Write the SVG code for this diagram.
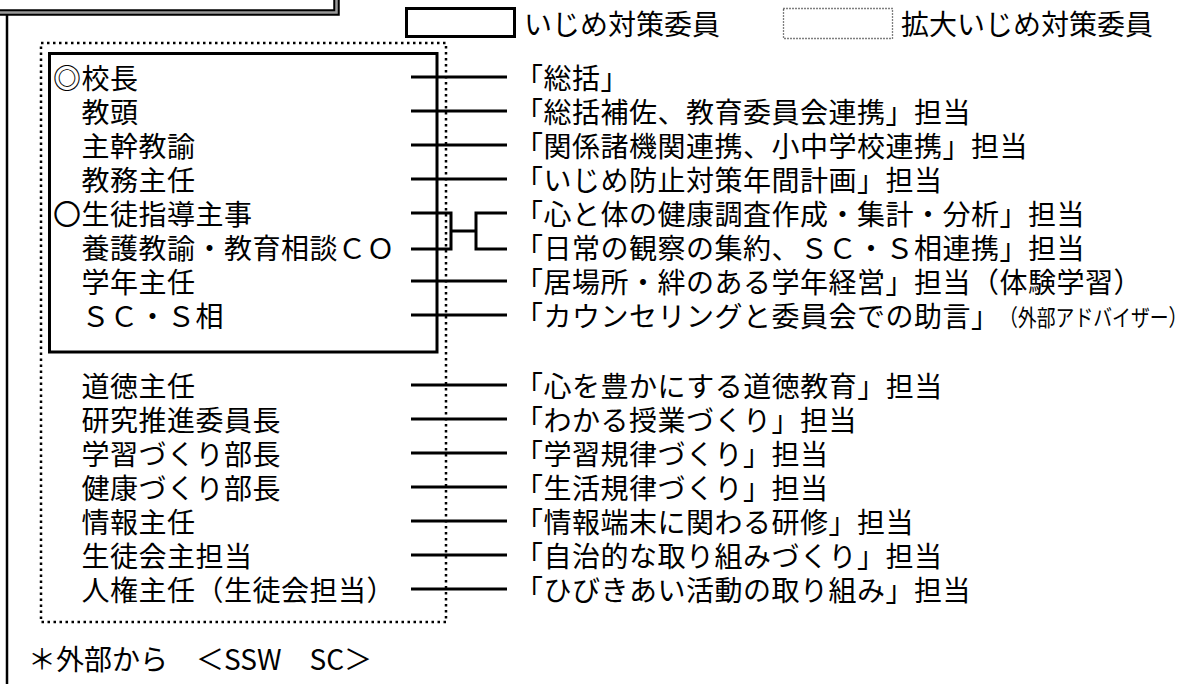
<svg xmlns="http://www.w3.org/2000/svg" width="1189" height="684" viewBox="0 0 1189 684">
<style>
text{font-family:"Noto Sans CJK JP","Noto Sans CJK SC",sans-serif;font-size:28px;fill:#000}
.r{letter-spacing:0.5px}
.sm{font-size:23px}
.ln{stroke:#000;stroke-width:3;fill:none}
.box{stroke:#000;stroke-width:3;fill:none}
.dot{stroke:#000;stroke-width:2.5;fill:none;stroke-dasharray:2.5 3.5}
</style>
<rect width="1189" height="684" fill="#fff"/>
<g id="title-frame">
<rect x="-10" y="-10" width="346.5" height="22.5" fill="#fff" stroke="#000" stroke-width="6.5"/>
<rect x="-10" y="-10" width="346.5" height="22.5" fill="none" stroke="#999" stroke-width="2.5"/>
<line x1="7" y1="15" x2="7" y2="684" stroke="#000" stroke-width="2.5"/>
</g>
<g id="legend">
<rect x="406.5" y="8.5" width="108" height="28" class="box"/>
<text x="524" y="35">いじめ対策委員</text>
<rect x="783.5" y="8.5" width="109" height="30" fill="none" stroke="#000" stroke-width="1.3" stroke-dasharray="1 2"/>
<text x="901" y="35">拡大いじめ対策委員</text>
</g>
<g id="expanded-committee">
<rect x="41" y="43" width="405" height="579" class="dot"/>
</g>
<g id="core-committee">
<rect x="49.5" y="53.5" width="387.5" height="298.5" class="box"/>
</g>
<g id="connectors">
<path class="ln" d="M411,77H507M411,111H507M411,145H507M411,179H507M411,281H507M411,315H507"/>
<path class="ln" d="M411,213H451V249H411M451,231H476M507,213H476V249H507"/>
<path class="ln" d="M411,385H507M411,419H507M411,453H507M411,487H507M411,521H507M411,555H507M411,589H507"/>
</g>
<g id="row-kocho" class="r"><text x="53" y="89">◎校長</text><text x="515" y="89">「総括」</text></g>
<g id="row-kyoto" class="r"><text x="53" y="123">　教頭</text><text x="515" y="123">「総括補佐、教育委員会連携」担当</text></g>
<g id="row-shukan" class="r"><text x="53" y="157">　主幹教諭</text><text x="515" y="157">「関係諸機関連携、小中学校連携」担当</text></g>
<g id="row-kyomu" class="r"><text x="53" y="191">　教務主任</text><text x="515" y="191">「いじめ防止対策年間計画」担当</text></g>
<g id="row-seito" class="r"><text x="53" y="225">〇生徒指導主事</text><text x="515" y="225">「心と体の健康調査作成・集計・分析」担当</text></g>
<g id="row-yogo" class="r"><text x="53" y="259">　養護教諭・教育相談ＣＯ</text><text x="515" y="259">「日常の観察の集約、ＳＣ・Ｓ相連携」担当</text></g>
<g id="row-gakunen" class="r"><text x="53" y="293">　学年主任</text><text x="515" y="293">「居場所・絆のある学年経営」担当（体験学習）</text></g>
<g id="row-sc" class="r"><text x="53" y="327">　ＳＣ・Ｓ相</text><text x="515" y="327">「カウンセリングと委員会での助言」</text><text class="sm" transform="translate(999,326) scale(0.82,1)" style="letter-spacing:0">（外部アドバイザー）</text></g>
<g id="row-dotoku" class="r"><text x="53" y="397">　道徳主任</text><text x="515" y="397">「心を豊かにする道徳教育」担当</text></g>
<g id="row-kenkyu" class="r"><text x="53" y="431">　研究推進委員長</text><text x="515" y="431">「わかる授業づくり」担当</text></g>
<g id="row-gakushu" class="r"><text x="53" y="465">　学習づくり部長</text><text x="515" y="465">「学習規律づくり」担当</text></g>
<g id="row-kenko" class="r"><text x="53" y="499">　健康づくり部長</text><text x="515" y="499">「生活規律づくり」担当</text></g>
<g id="row-joho" class="r"><text x="53" y="533">　情報主任</text><text x="515" y="533">「情報端末に関わる研修」担当</text></g>
<g id="row-seitokai" class="r"><text x="53" y="567">　生徒会主担当</text><text x="515" y="567">「自治的な取り組みづくり」担当</text></g>
<g id="row-jinken" class="r"><text x="53" y="601">　人権主任（生徒会担当）</text><text x="515" y="601">「ひびきあい活動の取り組み」担当</text></g>
<g id="external"><text x="28" y="670">＊外部から　＜SSW　SC＞</text></g>
</svg>
